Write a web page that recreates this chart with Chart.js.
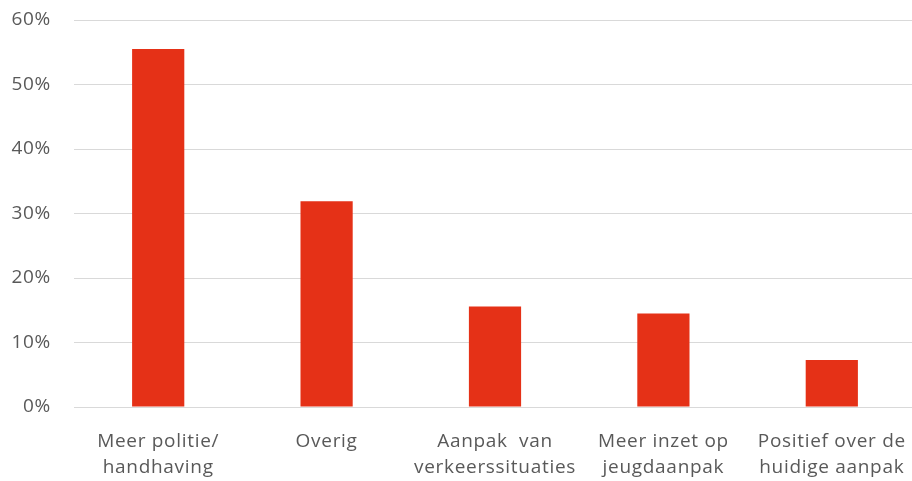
<!DOCTYPE html>
<html>
<head>
<meta charset="utf-8">
<script src="https://cdn.jsdelivr.net/npm/chart.js@4/dist/chart.umd.min.js"></script>
<style>
html,body{margin:0;padding:0;background:#fff;overflow:hidden;}
#wrap{width:916px;height:481px;position:relative;}
</style>
</head>
<body>
<div id="wrap"><canvas id="c"></canvas></div>
<script>
const categories = [
  ["Meer politie/", "handhaving"],
  ["Overig"],
  ["Aanpak  van", "verkeerssituaties"],
  ["Meer inzet op", "jeugdaanpak"],
  ["Positief over de", "huidige aanpak"]
];
const values = [55.5, 31.9, 15.6, 14.5, 7.3];
const yMax = 60;
const yStep = 10;

const spacingPlugin = {
  id: 'spacing',
  beforeInit(chart) { chart.ctx.letterSpacing = '0.7px'; },
  beforeDraw(chart) { chart.ctx.letterSpacing = '0.7px'; }
};

new Chart(document.getElementById('c'), {
  type: 'bar',
  plugins: [spacingPlugin],
  data: {
    labels: categories,
    datasets: [{
      data: values,
      backgroundColor: '#E53117',
      borderWidth: 0,
      barPercentage: 0.31,
      categoryPercentage: 1
    }]
  },
  options: {
    responsive: true,
    maintainAspectRatio: false,
    animation: false,
    layout: {padding: 0},
    plugins: {legend: {display: false}, tooltip: {enabled: false}},
    scales: {
      x: {
        grid: {display: false, drawTicks: false},
        border: {display: false},
        ticks: {
          color: '#595959',
          font: {family: "'Open Sans', sans-serif", size: 19, lineHeight: 1.4},
          padding: 21,
          maxRotation: 0,
          autoSkip: false
        },
        afterFit: s => { s.height = 74; s.paddingLeft = 0; s.paddingRight = 0; }
      },
      y: {
        min: 0, max: yMax,
        grid: {color: '#d9d9d9', lineWidth: 1, drawTicks: false},
        border: {display: false},
        ticks: {
          stepSize: yStep,
          color: '#595959',
          font: {family: "'Open Sans', sans-serif", size: 19},
          padding: 23,
          callback: v => v + '%'
        },
        afterFit: s => { s.width = 74; s.paddingTop = 20; s.paddingBottom = 0; }
      }
    }
  }
});
</script>
</body>
</html>
